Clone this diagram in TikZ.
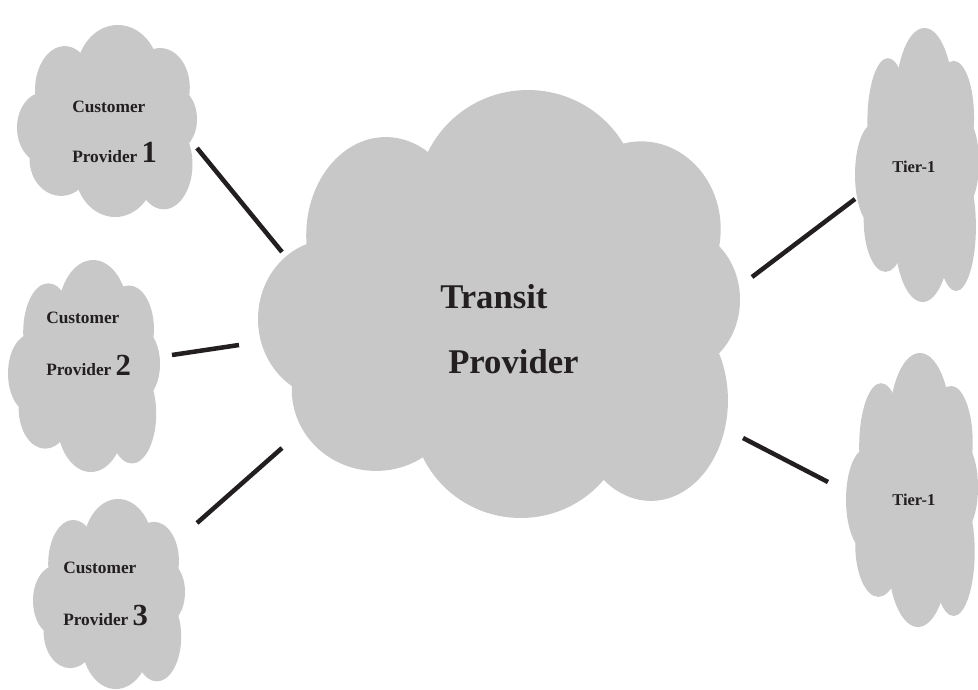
\documentclass[tikz,border=0pt]{standalone}
\usepackage{fontspec}
\setmainfont{Liberation Serif}
\definecolor{cloudgray}{HTML}{C8C8C8}
\definecolor{ink}{HTML}{231F20}
\newcommand\mycloud[4]{%
\begin{scope}[shift={(#1,#2)},xscale=#3,yscale=#4]
\fill[cloudgray] (0,0) ellipse [x radius=0.75,y radius=0.70];
\fill[cloudgray] (0.12,-0.49) ellipse [x radius=0.46,y radius=0.51];
\fill[cloudgray] (-0.47,-0.32) ellipse [x radius=0.33,y radius=0.46];
\fill[cloudgray] (-0.70,0.07) ellipse [x radius=0.30,y radius=0.37];
\fill[cloudgray] (-0.51,0.40) ellipse [x radius=0.35,y radius=0.38];
\fill[cloudgray] (0.09,0.50) ellipse [x radius=0.45,y radius=0.50];
\fill[cloudgray] (0.63,0.45) ellipse [x radius=0.32,y radius=0.47];
\fill[cloudgray] (0.75,-0.02) ellipse [x radius=0.25,y radius=0.33];
\fill[cloudgray] (0.59,-0.35) ellipse [x radius=0.33,y radius=0.41];
\end{scope}}
\newcommand\bignum[1]{{\fontsize{23}{25}\selectfont #1}}
\tikzset{
  lbl/.style={anchor=base west,inner sep=0pt,text=ink,font=\fontsize{13}{15}\selectfont\bfseries},
  big/.style={anchor=base west,inner sep=0pt,text=ink,font=\fontsize{26}{30}\selectfont\bfseries},
  tier/.style={anchor=base west,inner sep=0pt,text=ink,font=\fontsize{12.4}{14}\selectfont\bfseries},
  link/.style={draw=ink,line width=3.4pt}
}
\begin{document}
\begin{tikzpicture}[x=0.75pt,y=-0.75pt]
\useasboundingbox (0,0) rectangle (978,689);
% clouds
\mycloud{499}{304}{241}{214}
\mycloud{107}{121}{90}{96}
\mycloud{84}{366}{76}{106}
\mycloud{109}{594}{76}{95}
\mycloud{917}{165}{62}{137}
\mycloud{912}{490}{66}{137}
% labels
\node[big] (tr1) at (440,308) {Transit};
\node[big] (tr2) at (448,373) {Provider};
\node[lbl] (c1a) at (72,112) {Customer};
\node[lbl] (c1b) at (72,162) {Provider \bignum{1}};
\node[lbl] (c2a) at (46,323) {Customer};
\node[lbl] (c2b) at (46,375) {Provider \bignum{2}};
\node[lbl] (c3a) at (63,573) {Customer};
\node[lbl] (c3b) at (63,625) {Provider \bignum{3}};
\node[tier] (t1) at (892,172) {Tier-1};
\node[tier] (t2) at (892,505) {Tier-1};
% connector end points
\coordinate (l1a) at (197,148); \coordinate (l1b) at (282,252);
\coordinate (l2a) at (172,355); \coordinate (l2b) at (239,345);
\coordinate (l3a) at (197,523); \coordinate (l3b) at (282,448);
\coordinate (l4a) at (752,277); \coordinate (l4b) at (855,199);
\coordinate (l5a) at (743,438); \coordinate (l5b) at (828,482);
\draw[link] (l1a) -- (l1b);
\draw[link] (l2a) -- (l2b);
\draw[link] (l3a) -- (l3b);
\draw[link] (l4a) -- (l4b);
\draw[link] (l5a) -- (l5b);
\end{tikzpicture}
\end{document}
